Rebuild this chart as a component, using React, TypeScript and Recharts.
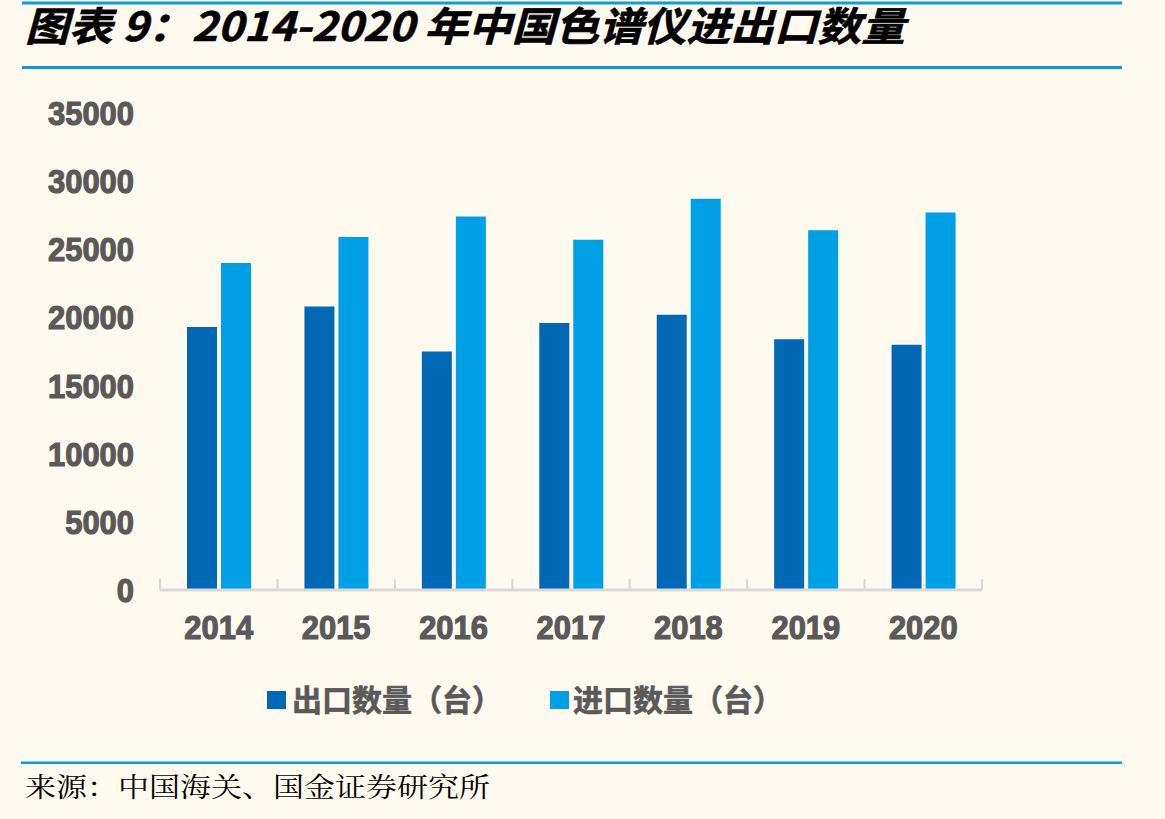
import React from "react";
import { BarChart, Bar, XAxis, YAxis, Legend } from "recharts";

// 2014-2020 chromatograph trade volumes (units)
const years = ["2014", "2015", "2016", "2017", "2018", "2019", "2020"];
const exportQty = [19300, 20800, 17500, 19600, 20200, 18400, 18000];
const importQty = [24000, 25900, 27400, 25700, 28700, 26400, 27700];
const yTicks = [0, 5000, 10000, 15000, 20000, 25000, 30000, 35000];

const exportName = "出口数量（台）";
const importName = "进口数量（台）";
const titleText = "图表 9：2014-2020 年中国色谱仪进出口数量";
const sourceText = "来源：中国海关、国金证券研究所";

const EXPORT_COLOR = "#0068B5";
const IMPORT_COLOR = "#00A0E6";
const ACCENT = "#0C9BDC";
const LABEL = "#595959";
const BG = "#FFFAEF";

const data = years.map((year, i) => ({
  year,
  exportQty: exportQty[i],
  importQty: importQty[i],
}));

const W = 1165;
const H = 819;
const PLOT_LEFT = 160;
const PLOT_RIGHT = 982;
const PLOT_TOP = 113;
const PLOT_BOTTOM = 590;
const X_AXIS_H = 80;
const LEGEND_H = 60;
const BAND = (PLOT_RIGHT - PLOT_LEFT) / years.length;

const numFont = "'Liberation Sans', Arial, sans-serif";
const cjkFont = "'Noto Sans CJK SC', 'Liberation Sans', sans-serif";

const YTick = (props: any) => {
  const { x, y, payload } = props;
  const s = String(payload.value);
  return (
    <text
      x={x}
      y={y + 12}
      textAnchor="end"
      fontFamily={numFont}
      fontWeight={700}
      fontSize={34}
      fill={LABEL}
      stroke={LABEL}
      strokeWidth={1.2}
      textLength={s.length * 17.2}
      lengthAdjust="spacingAndGlyphs"
    >
      {s}
    </text>
  );
};

const XTick = (props: any) => {
  const { x, y, payload, index } = props;
  const half = payload && typeof payload.offset === "number" && payload.offset > 0 ? payload.offset : BAND / 2;
  const s = String(payload.value);
  return (
    <g>
      <line x1={x - half} x2={x - half} y1={y} y2={y - 11} stroke="#D9D9D9" strokeWidth={2} />
      {index === years.length - 1 && (
        <line x1={x + half} x2={x + half} y1={y} y2={y - 11} stroke="#D9D9D9" strokeWidth={2} />
      )}
      <text
        x={x}
        y={y + 49}
        textAnchor="middle"
        fontFamily={numFont}
        fontWeight={700}
        fontSize={34}
        fill={LABEL}
        stroke={LABEL}
        strokeWidth={1.2}
        textLength={s.length * 17.2}
        lengthAdjust="spacingAndGlyphs"
      >
        {s}
      </text>
    </g>
  );
};

const LegendContent = () => {
  const items = [
    { name: exportName, color: EXPORT_COLOR, sx: 267, tx: 292 },
    { name: importName, color: IMPORT_COLOR, sx: 550, tx: 573 },
  ];
  return (
    <svg width={W} height={LEGEND_H} style={{ display: "block" }}>
      {items.map((it) => (
        <g key={it.name}>
          <rect x={it.sx} y={21} width={19} height={18} fill={it.color} />
          <text
            x={it.tx}
            y={41}
            fontFamily={cjkFont}
            fontWeight={700}
            fontSize={30}
            fill={LABEL}
            stroke={LABEL}
            strokeWidth={0.6}
            textLength={210}
            lengthAdjust="spacingAndGlyphs"
          >
            {it.name}
          </text>
        </g>
      ))}
    </svg>
  );
};

export default function App() {
  return (
    <div
      style={{
        position: "fixed",
        left: 0,
        top: 0,
        width: W,
        height: H,
        background: BG,
        overflow: "hidden",
      }}
    >
      <svg
        width={W}
        height={H}
        style={{ position: "absolute", left: 0, top: 0, pointerEvents: "none" }}
      >
        <rect x={22} y={1.5} width={1100} height={3} fill={ACCENT} />
        <text
          x={25}
          y={41}
          fontFamily={cjkFont}
          fontWeight={700}
          fontStyle="italic"
          fontSize={40}
          fill="#000"
          stroke="#000"
          strokeWidth={0.6}
          textLength={880}
          lengthAdjust="spacingAndGlyphs"
        >
          {titleText}
        </text>
        <rect x={22} y={66} width={1100} height={3} fill={ACCENT} />
        <rect x={21} y={761.5} width={1101} height={2.5} fill={ACCENT} />
        <text
          x={25}
          y={797}
          fontFamily="'Noto Serif CJK SC', 'Noto Sans CJK SC', serif"
          fontWeight={400}
          fontSize={27}
          fill="#000"
          textLength={465}
          lengthAdjust="spacingAndGlyphs"
        >
          {sourceText}
        </text>
      </svg>
      <div style={{ position: "absolute", left: 0, top: 0 }}>
        <BarChart
          width={W}
          height={H}
          data={data}
          margin={{
            top: PLOT_TOP,
            right: W - PLOT_RIGHT,
            bottom: H - PLOT_BOTTOM - X_AXIS_H - LEGEND_H,
            left: PLOT_LEFT - 60,
          }}
          barCategoryGap="23%"
          barGap={4}
        >
          <XAxis
            dataKey="year"
            axisLine={{ stroke: "#D9D9D9", strokeWidth: 3 }}
            tickLine={false}
            tickSize={0}
            tickMargin={0}
            tick={<XTick />}
            interval={0}
            height={X_AXIS_H}
          />
          <YAxis
            width={60}
            domain={[0, 35000]}
            ticks={yTicks}
            axisLine={false}
            tickLine={false}
            tickSize={0}
            tickMargin={26}
            tick={<YTick />}
            interval={0}
          />
          <Legend
            content={<LegendContent />}
            wrapperStyle={{ position: "absolute", left: 0, top: 670, width: W, height: LEGEND_H }}
          />
          <Bar dataKey="exportQty" name={exportName} fill={EXPORT_COLOR} isAnimationActive={false} />
          <Bar dataKey="importQty" name={importName} fill={IMPORT_COLOR} isAnimationActive={false} />
        </BarChart>
      </div>
    </div>
  );
}
